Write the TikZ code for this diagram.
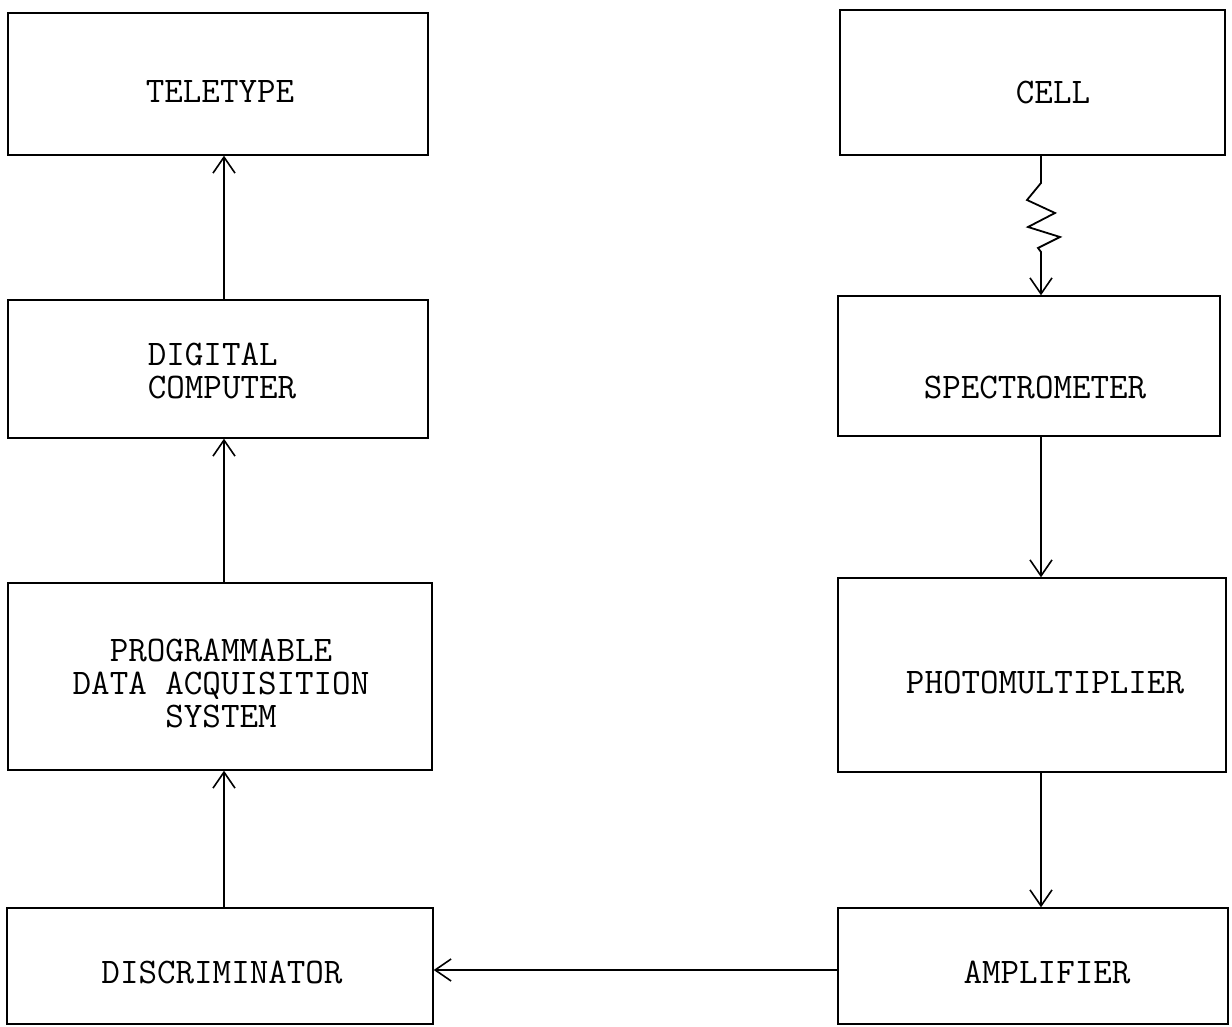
\documentclass[tikz,border=0pt]{standalone}
\usepackage{fontspec}
\usetikzlibrary{arrows.meta,fit}
\begin{document}
\begin{tikzpicture}[x=0.5pt,y=-0.5pt,
  box/.style={draw, line width=0.7pt, inner sep=0pt},
  txt/.style={font=\ttfamily\fontsize{18}{16.5}\selectfont, inner sep=0pt, align=center},
  arr/.style={line width=0.75pt, -{Straight Barb[length=8pt,width=11pt,line width=0.8pt]}}]
\useasboundingbox (0,0) rectangle (1232,1027);
% left column
\node[box, fit={(8,13) (428,155)}] (tele) {};
\node[box, fit={(8,300) (428,438)}] (dig) {};
\node[box, fit={(8,583) (432,770)}] (pdas) {};
\node[box, fit={(7,908) (433,1024)}] (disc) {};
% right column
\node[box, fit={(840,10) (1225,155)}] (cell) {};
\node[box, fit={(838,296) (1220,436)}] (spec) {};
\node[box, fit={(838,578) (1226,772)}] (pmt) {};
\node[box, fit={(838,908) (1228,1024)}] (amp) {};
% texts
\node[txt] (telet) at (220,92) {TELETYPE};
\node[txt, align=left] (digt) at (222,371) {DIGITAL\\COMPUTER};
\node[txt] (pdast) at (221,683) {PROGRAMMABLE\\DATA ACQUISITION\\SYSTEM};
\node[txt] (disct) at (222,972) {DISCRIMINATOR};
\node[txt] (cellt) at (1053,93) {CELL};
\node[txt] (spect) at (1035,388) {SPECTROMETER};
\node[txt] (pmtt) at (1045,682) {PHOTOMULTIPLIER};
\node[txt] (ampt) at (1047,972) {AMPLIFIER};
% connectors
\coordinate (lx) at (224,0);
\coordinate (rx) at (1041,0);
\coordinate (hy) at (0,970);
\draw[arr] (lx |- dig.north) -- (lx |- tele.south);
\draw[arr] (lx |- pdas.north) -- (lx |- dig.south);
\draw[arr] (lx |- disc.north) -- (lx |- pdas.south);
\draw[arr, line width=0.9pt] (rx |- cell.south) -- (1041,183) -- (1027,200) -- (1055,213) -- (1028,227) -- (1060,237) -- (1038,248) -- (1041,252) -- (rx |- spec.north);
\draw[arr] (rx |- spec.south) -- (rx |- pmt.north);
\draw[arr] (rx |- pmt.south) -- (rx |- amp.north);
\draw[arr] (amp.west |- hy) -- (disc.east |- hy);
\end{tikzpicture}
\end{document}
